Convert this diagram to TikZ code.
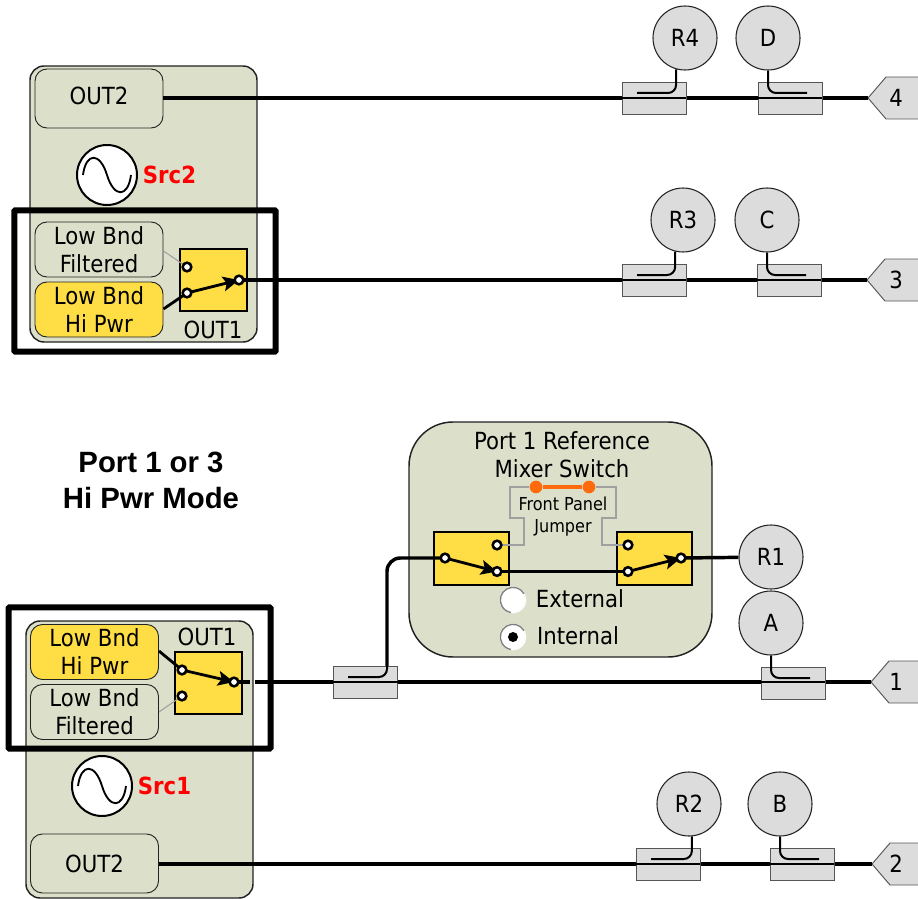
\documentclass[tikz,border=0pt]{standalone}
\usepackage{fontspec}
\setmainfont{DejaVu Sans Condensed}
\newfontfamily\arialf{Liberation Sans}
\usetikzlibrary{arrows.meta}
\definecolor{panel}{HTML}{DCE0CA}
\definecolor{yel}{HTML}{FFDD44}
\definecolor{couplerfill}{HTML}{DCDCDC}
\definecolor{jump}{HTML}{FF6A0D}
\definecolor{thing}{HTML}{A0A0A0}
\definecolor{edge}{HTML}{222222}
\definecolor{cedge}{HTML}{555555}
\tikzset{
 x=0.75pt,y=-0.75pt,
 panelbox/.style={draw=edge,line width=1.1pt,fill=panel,rounded corners=10.5pt,inner sep=0pt},
 srcbox/.style={draw=edge,line width=0.7pt,fill=panel,rounded corners=9pt,inner sep=0pt,minimum width=96pt,align=center,font=\fontsize{17.7}{21}\selectfont},
 selbox/.style={srcbox,fill=yel},
 switchbox/.style={draw=black,line width=1.2pt,fill=yel,inner sep=0pt,minimum width=50pt,minimum height=46.5pt},
 term/.style={circle,draw=black,line width=1.9pt,fill=white,inner sep=0pt,minimum size=6.5pt},
 wire/.style={draw=black,line width=2.6pt},
 thinwire/.style={draw=black,line width=1.4pt},
 arm/.style={draw=black,line width=2.1pt,-{Stealth[length=12pt,width=11pt,inset=2.5pt]}},
 grayw/.style={draw=thing,line width=0.8pt},
 frame/.style={draw=black,line width=4.5pt,rounded corners=0.8pt},
 coupler/.style={draw=cedge,line width=0.7pt,fill=couplerfill,inner sep=0pt,minimum width=48pt,minimum height=24pt},
 probe/.style={circle,draw=edge,line width=0.8pt,fill=couplerfill,inner sep=0pt,minimum size=48pt,font=\fontsize{17.7}{21}\selectfont},
 tap/.style={draw=black,line width=1.5pt,rounded corners=6pt},
 src/.style={circle,draw=black,line width=1.5pt,fill=white,inner sep=0pt,minimum size=45pt},
 lab/.style={inner sep=0pt,font=\fontsize{17.7}{21}\selectfont,align=center},
 small/.style={inner sep=0pt,font=\fontsize{13.4}{16.5}\selectfont,align=center},
 srclab/.style={inner sep=0pt,text=red,font=\fontsize{17.7}{21}\selectfont\bfseries},
 portshape/.style={draw=cedge,line width=0.7pt,fill=couplerfill},
 radio/.style={circle,fill=white,inner sep=0pt,minimum size=18pt},
}
\newcommand{\sinewave}[2]{%
 \draw[black,line width=1.4pt] (#1-24,#2) .. controls (#1-21,#2-23) and (#1-7,#2-23) .. (#1,#2) .. controls (#1+7,#2+23) and (#1+21,#2+23) .. (#1+24,#2);}
\newcommand{\portpent}[4]{% name, tip x, y, text
 \coordinate (#1) at (#2,#3);
 \draw[portshape] (#1) -- (#2+18,#3-21) -- (922,#3-21) -- (922,#3+21) -- (#2+18,#3+21) -- cycle;
 \node[lab] (#1txt) at (896,#3) {#4};}
\newcommand{\radiorim}[1]{%
 \draw[white,line width=1pt] (#1) circle (9.5pt);
 \draw[gray,line width=1pt] (#1) ++(30:9.5pt) arc[start angle=30,end angle=260,radius=9.5pt];}
\begin{document}
\begin{tikzpicture}
\useasboundingbox (0,0) rectangle (918,899);

% ---------- upper source block
\node[panelbox,minimum width=170.25pt,minimum height=207pt] (srcTwo) at (143.5,204) {};
\node[srcbox,minimum height=44.25pt] (outTwoT) at (99,98.5) {};
\node[lab] (outTwoTlab) at (99,96) {OUT2};
\node[src] (oscTwo) at (107,175) {};
\sinewave{107}{175}
\node[srclab] (srcTwoLab) at (169.5,175) {Src2};
\node[srcbox,minimum height=41.25pt] (filtT) at (99,249.5) {Low Bnd\\Filtered};
\node[selbox,minimum height=41.25pt] (hiT) at (99,309.5) {Low Bnd\\Hi Pwr};
\node[switchbox] (swT) at (213.5,280) {};
\node[lab] (outOneT) at (213,330) {OUT1};
\coordinate (tTa) at (187,267);
\coordinate (tTb) at (187,293);
\coordinate (tTc) at (239,280);

% ---------- lower source block
\node[panelbox,minimum width=170.25pt,minimum height=207.75pt] (srcOne) at (139.5,759.5) {};
\node[selbox,minimum height=41.25pt] (hiB) at (94.5,652) {Low Bnd\\Hi Pwr};
\node[srcbox,minimum height=41.25pt] (filtB) at (94.5,712) {Low Bnd\\Filtered};
\node[switchbox] (swB) at (208.5,683) {};
\node[lab] (outOneB) at (207,637) {OUT1};
\coordinate (tBa) at (182,670);
\coordinate (tBb) at (182,696);
\coordinate (tBc) at (234,682);
\node[src] (oscOne) at (102,786) {};
\sinewave{102}{786}
\node[srclab] (srcOneLab) at (164.5,786) {Src1};
\node[srcbox,minimum height=44.25pt] (outTwoB) at (94.5,863.5) {OUT2};

% ---------- mixer panel
\node[draw=edge,line width=1.1pt,fill=panel,rounded corners=33pt,inner sep=0pt,minimum width=227.25pt,minimum height=176.25pt] (mixer) at (560.5,539.5) {};
\node[lab] (mixT) at (562,455) {Port 1 Reference\\Mixer Switch};
\node[switchbox,minimum width=56.25pt,minimum height=39.75pt] (swL) at (471.5,558.5) {};
\node[switchbox,minimum width=56.25pt,minimum height=39.75pt] (swR) at (654.5,558.5) {};
\coordinate (lA) at (445,558);
\coordinate (lB) at (497,545);
\coordinate (lC) at (497,571.5);
\coordinate (rA) at (628,571.5);
\coordinate (rB) at (628,545);
\coordinate (rC) at (681,558);
\node[small] (jumpT) at (563,517) {Front Panel\\Jumper};
\node[circle,fill=jump,inner sep=0pt,minimum size=9.5pt] (jA) at (536,487) {};
\node[circle,fill=jump,inner sep=0pt,minimum size=9.5pt] (jB) at (589,487) {};
\draw[grayw] (jA) -- (510,487) -- (510,518) -- (524,518) -- (524,545) -- (lB);
\draw[grayw] (jB) -- (616,487) -- (616,518) -- (602,518) -- (602,545) -- (rB);
\draw[jump,line width=3.5pt] (jA) -- (jB);
\node[radio] (radE) at (513,600) {};
\radiorim{radE.center}
\node[radio] (radI) at (513,637) {};
\radiorim{radI.center}
\node[circle,fill=black,inner sep=0pt,minimum size=7.5pt] (radDot) at (513,637) {};
\node[lab] (extL) at (580,599) {External};
\node[lab] (intL) at (578,636) {Internal};

% ---------- main lines
\portpent{pFour}{868}{98}{4}
\portpent{pThree}{867}{280}{3}
\portpent{pOne}{871}{682}{1}
\portpent{pTwo}{872}{864}{2}
\draw[wire] (outTwoT.east |- 0,98) -- (pFour);
\draw[wire] (tTc) -- (pThree);
\draw[wire] (tBc) -- (250,682);
\draw[wire,line width=2.3pt] (255,682) -- (pOne);
\draw[wire] (outTwoB.east |- 0,864) -- (pTwo);

% couplers
\node[coupler] (cRf) at (654,98) {};
\node[coupler] (cD) at (790,98) {};
\node[coupler] (cRt) at (654,280) {};
\node[coupler] (cC) at (789,280) {};
\node[coupler] (cIn) at (365.5,682) {};
\node[coupler] (cA) at (793,683) {};
\node[coupler] (cRs) at (668,864) {};
\node[coupler] (cB) at (802,864) {};
\foreach \c/\yy in {cRf/98,cD/98,cRt/280,cC/280,cIn/682,cA/682,cRs/864,cB/864}{\draw[thinwire] (\c.west |- 0,\yy) -- (\c.east |- 0,\yy);}

% probes
\node[probe] (R4) at (685,38) {R4};
\node[probe] (D) at (768,38) {D};
\node[probe] (R3) at (683,220) {R3};
\node[probe] (C) at (767,220) {C};
\node[probe] (R1) at (771,557) {R1};
\node[probe] (A) at (771,623) {A};
\node[probe] (R2) at (689,804) {R2};
\node[probe] (B) at (780,804) {B};
\draw[tap] (R4.254) |- (637,93);
\draw[tap] (D.south) |- (807,93);
\draw[tap] (R3.256) |- (637,275);
\draw[tap] (C.south) |- (806,275);
\draw[tap] (A.south) |- (810,678);
\draw[tap] (R2.275) |- (651,859);
\draw[tap] (B.south) |- (819,859);

% upper switch
\draw[grayw] (filtT.east |- 0,251) -- (tTa);
\draw[wire,line width=2.1pt] (hiT.east |- 0,309) -- (tTb);
\draw[arm] (tTb) -- (tTc);
% lower switch
\draw[wire,line width=2.1pt] (hiB.east |- 0,651) -- (tBa);
\draw[grayw] (filtB.east |- 0,712) -- (tBb);
\draw[arm] (tBa) -- (tBc);
% mixer switches
\coordinate (cInTop) at (387,666);
\draw[tap] (348,677) -- (387,677) -- (cInTop);
\draw[wire,rounded corners=10pt] (cInTop) -- (387,558) -- (lA);
\draw[arm] (lA) -- (lC);
\draw[wire] (lC) -- (rA);
\draw[arm] (rA) -- (rC);
\draw[wire] (rC) -- (R1);

\foreach \t in {tTa,tTb,tTc,tBa,tBb,tBc,lA,lB,lC,rA,rB,rC}{\node[term] at (\t) {};}

% frames
\node[frame,minimum width=196pt,minimum height=106pt,inner sep=0pt] (frameT) at (145,281) {};
\node[frame,minimum width=196.5pt,minimum height=106pt,inner sep=0pt] (frameB) at (139.5,678) {};

\node[inner sep=0pt,align=center,font=\arialf\bfseries\fontsize{22}{27}\selectfont] (modeT) at (151,480) {Port 1 or 3\\Hi Pwr Mode};
\end{tikzpicture}
\end{document}
